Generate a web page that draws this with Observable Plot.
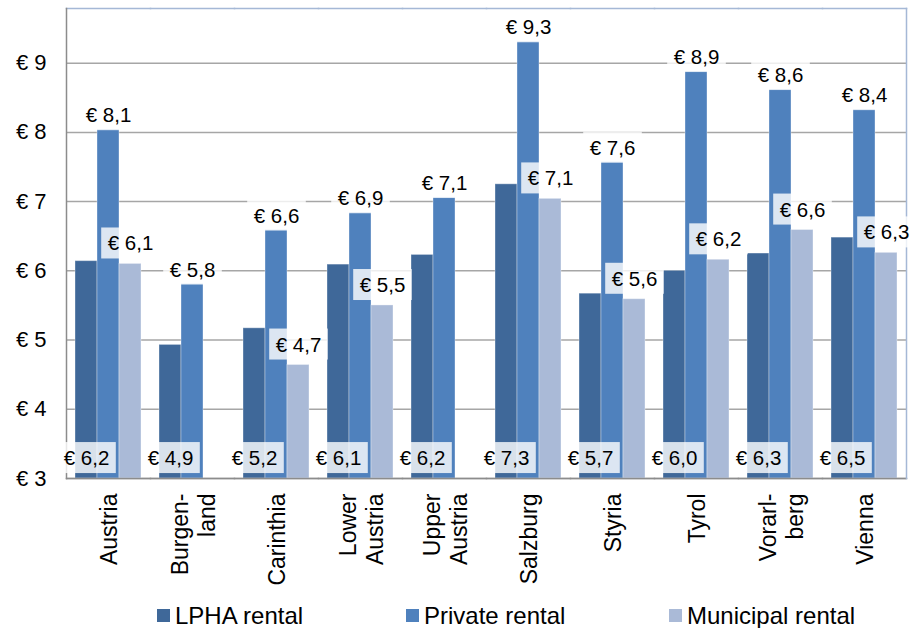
<!DOCTYPE html>
<html><head><meta charset="utf-8">
<script src="https://cdn.jsdelivr.net/npm/d3@7"></script>
<script src="https://cdn.jsdelivr.net/npm/@observablehq/plot@0.6"></script>
<style>
body{margin:0;background:#fff;font-family:"Liberation Sans",Arial,sans-serif;}
#wrap{position:relative;width:915px;height:628px;overflow:hidden;}
#legend{position:relative;height:33px;}
.item{position:absolute;top:4px;height:33px;display:flex;align-items:center;font-size:24px;color:#000;white-space:nowrap;}
.sw{width:13px;height:13px;margin-right:5px;}
</style></head><body><div id="wrap"><div id="chart"></div><div id="legend"></div></div>
<script>
// categories and tick labels
const regions = ["Austria","Burgenland","Carinthia","Lower Austria","Upper Austria","Salzburg","Styria","Tyrol","Vorarlberg","Vienna"];
const regionLabels = ["Austria","Burgen-\nland","Carinthia","Lower\nAustria","Upper\nAustria","Salzburg","Styria","Tyrol","Vorarl-\nberg","Vienna"];
const series = ["LPHA rental","Private rental","Municipal rental"];
const colors = ["#3f6899","#4f81bd","#aabad7"];
// bar heights (€ per m²)
const lphaValues      = [6.14, 4.93, 5.17, 6.09, 6.23, 7.25, 5.67, 6.00, 6.25, 6.48];
const privateValues   = [8.04, 5.81, 6.59, 6.84, 7.06, 9.31, 7.57, 8.88, 8.62, 8.33];
const municipalValues = [6.10, null, 4.64, 5.50, null, 7.04, 5.59, 6.16, 6.59, 6.26];
// printed data labels
const lphaLabels      = [6.2, 4.9, 5.2, 6.1, 6.2, 7.3, 5.7, 6.0, 6.3, 6.5];
const privateLabels   = [8.1, 5.8, 6.6, 6.9, 7.1, 9.3, 7.6, 8.9, 8.6, 8.4];
const municipalLabels = [6.1, null, 4.7, 5.5, null, 7.1, 5.6, 6.2, 6.6, 6.3];
// axis
const yTicks = [3, 4, 5, 6, 7, 8, 9];
const yDomain = [3, 9.79];

const fmtLabel = v => "€ " + v.toFixed(1).replace(".", ",");
const valueSets = [lphaValues, privateValues, municipalValues];
const labelSets = [lphaLabels, privateLabels, municipalLabels];
const rows = [];
regions.forEach((r, i) => series.forEach((s, j) => {
  if (valueSets[j][i] != null) rows.push({region: r, series: s, value: valueSets[j][i], label: fmtLabel(labelSets[j][i])});
}));
const bySeries = s => rows.filter(d => d.series === s);

const W = 915, H = 595, ML = 62, MR = 5, MT = 8, MB = 117;

const svg = Plot.plot({
  width: W, height: H,
  marginLeft: ML, marginRight: MR, marginTop: MT, marginBottom: MB,
  style: {fontFamily: "'Liberation Sans', Arial, sans-serif", fontSize: "20px", color: "#000", background: "#fff", overflow: "visible"},
  fx: {domain: regions, padding: 0},
  x: {domain: series, paddingInner: 0, paddingOuter: 0.39, axis: null},
  y: {domain: yDomain},
  color: {domain: series, range: colors},
  marks: [
    Plot.gridY(yTicks, {stroke: "#a6a6a6", strokeOpacity: 1, strokeWidth: 1.5}),
    Plot.barY(rows, {fx: "region", x: "series", y1: yDomain[0], y2: "value", fill: "series", stroke: "#fff", strokeOpacity: 0.35, strokeWidth: 1}),
    Plot.frame({anchor: "top", stroke: "#a5b8d6", strokeWidth: 1.5}),
    Plot.frame({anchor: "bottom", stroke: "#8c8c8c", strokeWidth: 1.5}),
    Plot.frame({anchor: "left", facetAnchor: "left", stroke: "#8c8c8c", strokeWidth: 1.5}),
    Plot.frame({anchor: "right", facetAnchor: "right", stroke: "#a5b8d6", strokeWidth: 1.5}),
    Plot.axisY(yTicks, {anchor: "left", tickSize: 0, tickPadding: 20, tickFormat: d => "€ " + d, fontSize: 22, label: null}),
    Plot.axisFx({anchor: "bottom", tickSize: 0, tickPadding: 15, tickRotate: -90, fontSize: 23, lineHeight: 1.2,
      tickFormat: d => regionLabels[regions.indexOf(d)], label: null}),
    Plot.text(bySeries(series[0]), {fx: "region", x: "series", y: yDomain[0], dy: -20, text: "label", fontSize: 20.5, fill: "#000"}),
    Plot.text(bySeries(series[1]), {fx: "region", x: "series", y: "value", dy: -14, text: "label", fontSize: 20.5, fill: "#000"}),
    Plot.text(bySeries(series[2]), {fx: "region", x: "series", y: "value", dy: -20, text: "label", fontSize: 20.5, fill: "#000"})
  ]
});
document.getElementById("chart").append(svg);

// semi-transparent label boxes, clipped to the plot area, drawn above bars
const NS = "http://www.w3.org/2000/svg";
const sr = svg.getBoundingClientRect();
const L = sr.left + ML, R = sr.left + W - MR;
const groups = Array.from(svg.querySelectorAll('g[aria-label="text"]'));
groups.forEach(g => {
  g.querySelectorAll("text").forEach(t => {
    const b = t.getBoundingClientRect();
    const x1 = Math.max(b.left - 6.5, L), x2 = Math.min(b.right + 6.5, R);
    const y1 = b.top - 4, y2 = b.bottom + 4;
    const m = t.parentNode.getScreenCTM().inverse();
    const p1 = new DOMPoint(x1, y1).matrixTransform(m);
    const p2 = new DOMPoint(x2, y2).matrixTransform(m);
    const rect = document.createElementNS(NS, "rect");
    rect.setAttribute("x", Math.min(p1.x, p2.x));
    rect.setAttribute("y", Math.min(p1.y, p2.y));
    rect.setAttribute("width", Math.abs(p2.x - p1.x));
    rect.setAttribute("height", Math.abs(p2.y - p1.y));
    rect.setAttribute("fill", "#fff");
    rect.setAttribute("fill-opacity", "0.8");
    rect.setAttribute("stroke", "none");
    t.parentNode.insertBefore(rect, t);
  });
});
groups.forEach(g => {
  const m = g.parentNode.getCTM();
  const w = document.createElementNS(NS, "g");
  w.setAttribute("transform", `matrix(${m.a},${m.b},${m.c},${m.d},${m.e},${m.f})`);
  w.appendChild(g);
  svg.appendChild(w);
});

// legend
const legendLeft = [157, 406, 669];
const legend = document.getElementById("legend");
series.forEach((s, i) => {
  const it = document.createElement("div");
  it.className = "item";
  it.style.left = legendLeft[i] + "px";
  const sw = document.createElement("span");
  sw.className = "sw";
  sw.style.background = colors[i];
  it.append(sw, document.createTextNode(s));
  legend.append(it);
});
</script></body></html>
